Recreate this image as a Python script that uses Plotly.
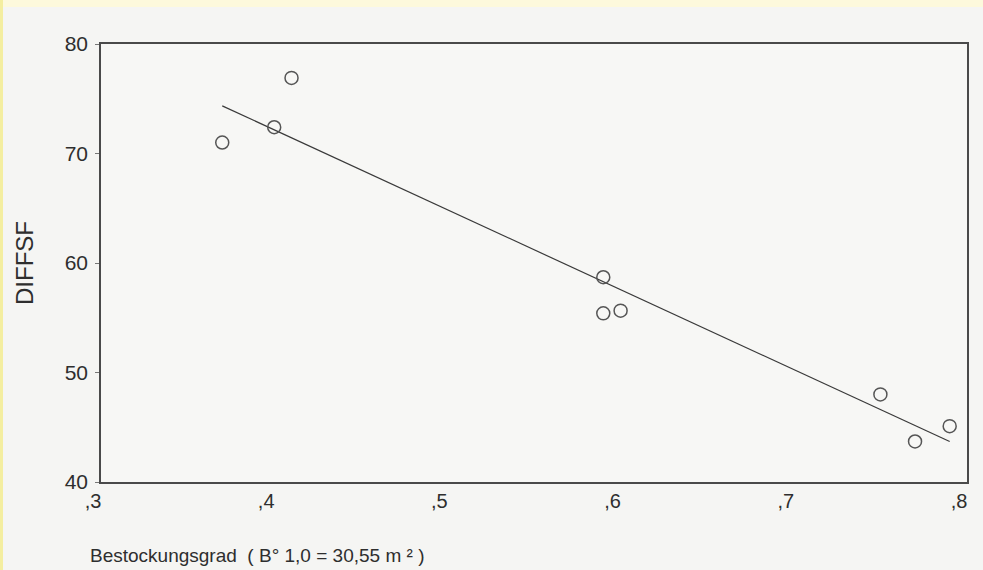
import plotly.graph_objects as go

# Data
bestockungsgrad = [0.37, 0.40, 0.41, 0.59, 0.59, 0.60, 0.75, 0.77, 0.79]
diffsf = [71.0, 72.4, 76.9, 58.7, 55.4, 55.65, 48.0, 43.7, 45.1]

# Regression line end points (as drawn in the reference)
fit_x = [0.37, 0.79]
fit_y = [74.35, 43.7]

x_tickvals = [0.3, 0.4, 0.5, 0.6, 0.7, 0.8]
x_ticktext = [",3", ",4", ",5", ",6", ",7", ",8"]
y_tickvals = [40, 50, 60, 70, 80]
y_ticktext = ["40", "50", "60", "70", "80"]

W, H = 983, 570
ML, MR, MT, MB = 101, 16, 44, 88
PW, PH = W - ML - MR, H - MT - MB
FONT = "Liberation Sans, Arial, sans-serif"
TXT = "#2e2e2e"

fig = go.Figure()
fig.add_trace(go.Scatter(
    x=fit_x, y=fit_y, mode="lines",
    line=dict(color="#3a3a3a", width=1.2),
    showlegend=False, hoverinfo="skip",
))
fig.add_trace(go.Scatter(
    x=bestockungsgrad, y=diffsf, mode="markers",
    marker=dict(symbol="circle-open", size=13, color="#555555",
                line=dict(width=1.5, color="#555555")),
    showlegend=False,
))

fig.update_layout(
    width=W, height=H,
    margin=dict(l=ML, r=MR, t=MT, b=MB),
    paper_bgcolor="#f5f5f3",
    plot_bgcolor="#f7f7f5",
    font=dict(family=FONT, size=20, color=TXT),
    xaxis=dict(
        range=[0.3, 0.8], tickvals=x_tickvals, ticktext=x_ticktext,
        showgrid=False, zeroline=False,
        showline=True, mirror=True, linecolor="#4a4a4a", linewidth=2,
        ticks="", ticklabelshift=-8, ticklabelstandoff=0,
        tickfont=dict(family=FONT, size=20, color=TXT),
    ),
    yaxis=dict(
        range=[40, 80], tickvals=y_tickvals, ticktext=y_ticktext,
        showgrid=False, zeroline=False,
        showline=True, mirror=True, linecolor="#4a4a4a", linewidth=1.6,
        ticks="outside", ticklen=4, tickwidth=1, tickcolor="#777777",
        ticklabelstandoff=3,
        tickfont=dict(family=FONT, size=21, color=TXT),
        title=dict(text="DIFFSF", font=dict(family=FONT, size=24, color=TXT), standoff=24),
    ),
    shapes=[
        dict(type="rect", xref="paper", yref="paper",
             x0=-ML / PW, x1=(W - ML) / PW,
             y0=1 + (MT - 7) / PH, y1=1 + MT / PH,
             fillcolor="#fdf9dc", line=dict(width=0), layer="below"),
        dict(type="rect", xref="paper", yref="paper",
             x0=-ML / PW, x1=-(ML - 3) / PW,
             y0=-MB / PH, y1=1 + MT / PH,
             fillcolor="#f4eea0", line=dict(width=0), layer="below"),
    ],
    annotations=[
        dict(text="Bestockungsgrad  ( B° 1,0 = 30,55 m ² )",
             xref="paper", yref="paper",
             x=-13 / PW, y=-73 / PH,
             xanchor="left", yanchor="middle", showarrow=False,
             font=dict(family=FONT, size=19, color=TXT)),
    ],
)

fig.write_html("out.html", config={"displayModeBar": False},
               post_script="document.body.style.margin='0';")
